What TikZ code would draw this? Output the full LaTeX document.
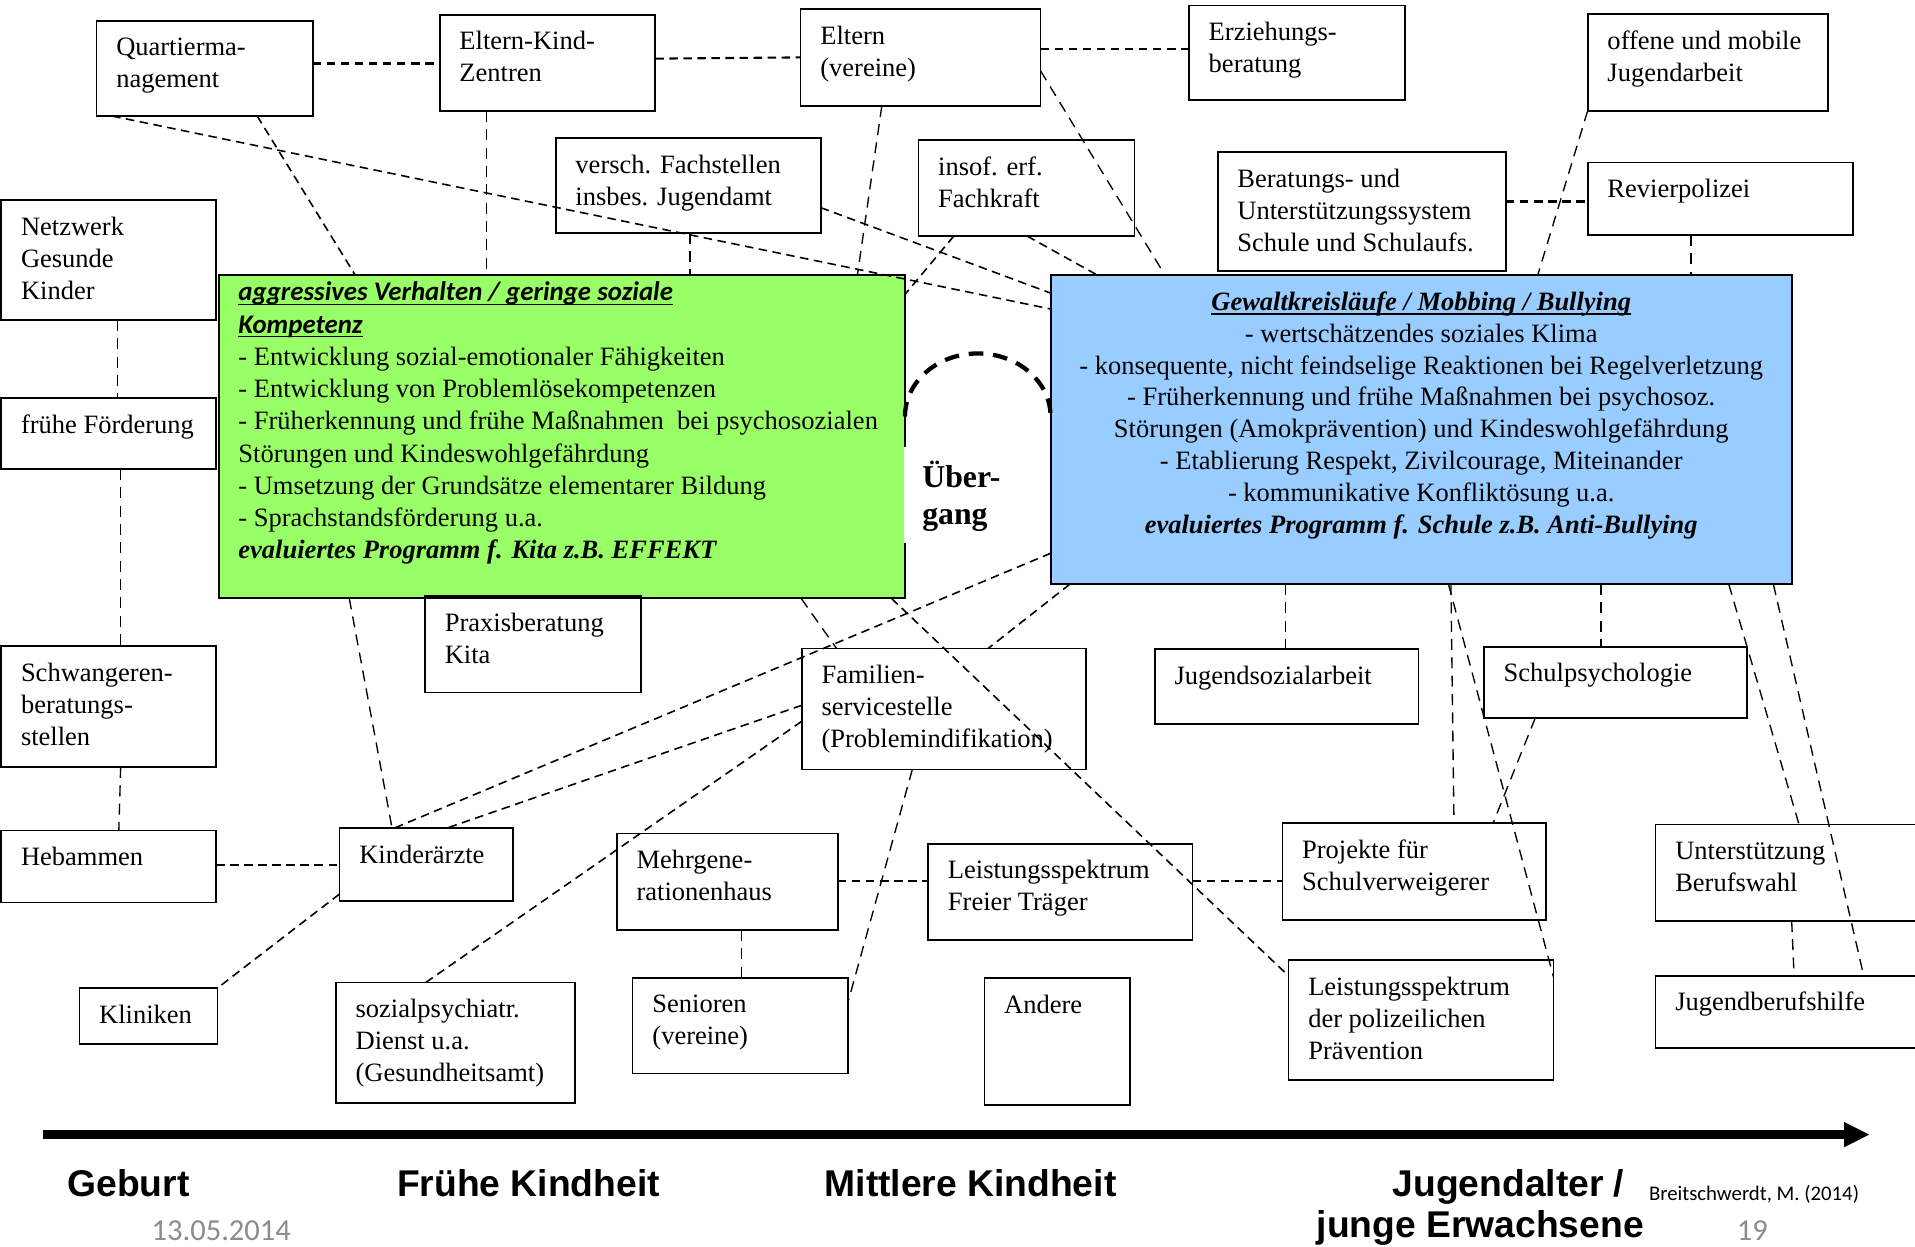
\documentclass[tikz,border=0pt]{standalone}
\usepackage{fontspec}
\setmainfont{Liberation Serif}
\newfontfamily\calib{Carlito}
\newfontfamily\arialf{Liberation Sans}
\usetikzlibrary{arrows.meta,calc}
\definecolor{kitagreen}{RGB}{153,255,102}
\definecolor{schulblue}{RGB}{153,204,255}
\definecolor{dategray}{RGB}{140,140,140}
\newcommand{\myul}[1]{\setbox0=\hbox{#1}\rlap{\rule[-3.5pt]{\wd0}{1.3pt}}\box0}
\newcommand{\ebox}[6]{%
  \node[ebx, minimum width={(#4-#2)*1pt}, minimum height={(#5-#3)*1pt}] (#1) at (#2,#3) {};
  \node[txt] (#1t) at ([shift={(16,12.5)}]#1.north west) {\rule{0pt}{16pt}#6};}
\tikzset{
  ebx/.style={draw=black, line width=1.4pt, inner sep=0pt, outer sep=0pt, anchor=north west},
  bigbox/.style={draw=black, line width=1.6pt, inner sep=0pt, outer sep=0pt, anchor=north west},
  txt/.style={anchor=north west, inner sep=0pt, align=left, font=\fontsize{21.7}{26.2}\selectfont},
  link/.style={line width=1.3pt, dash pattern=on 7pt off 4.5pt},
  hlink/.style={line width=1.7pt, dash pattern=on 7pt off 4.5pt},
  vlink/.style={line width=1.1pt, dash pattern=on 9pt off 6pt},
  arcd/.style={line width=3.5pt, dash pattern=on 12pt off 8pt},
  lab/.style={anchor=base west, inner sep=0pt, font=\arialf\bfseries\fontsize{30.5}{36}\selectfont},
  small/.style={anchor=base west, inner sep=0pt, text=dategray, font=\calib\fontsize{25}{30}\selectfont}
}
\begin{document}
\begin{tikzpicture}[x=1pt,y=-1pt]
\fill[white] (0,0) rectangle (1568,1021);
\useasboundingbox (0,0) rectangle (1568,1021);

% main boxes
\node[bigbox, fill=kitagreen, minimum width=562pt, minimum height=264.5pt] (kita) at (179,225.5) {};
\node[bigbox, fill=schulblue, minimum width=607.1pt, minimum height=252.8pt] (schule) at (860.3,225.5) {};
\node[fill=white, inner sep=0pt, outer sep=0pt, anchor=north west, minimum width=109pt, minimum height=79pt] (ueb) at (740.1,366) {};
\node[anchor=north west, inner sep=0pt, align=left, font=\bfseries\fontsize{26}{30}\selectfont] (uebt) at (755,375) {\rule{0pt}{24pt}Über-\\gang};

\node[txt, font=\fontsize{21.7}{26.4}\selectfont] (kitat) at (195,230.2) {\rule{0pt}{16pt}{\calib\bfseries\itshape\fontsize{22}{26.4}\selectfont\myul{aggressives Verhalten / geringe soziale}}\\
{\calib\bfseries\itshape\fontsize{22}{26.4}\selectfont\myul{Kompetenz}}\\
- Entwicklung sozial-emotionaler Fähigkeiten\\
- Entwicklung von Problemlösekompetenzen\\
- Früherkennung und frühe Maßnahmen\ \ bei psychosozialen\\
Störungen und Kindeswohlgefährdung\\
- Umsetzung der Grundsätze elementarer Bildung\\
- Sprachstandsförderung u.a.\\
{\bfseries\itshape evaluiertes Programm f. Kita z.B. EFFEKT}};

\node[txt, align=center, anchor=north, font=\fontsize{21.7}{26.1}\selectfont] (schulet) at (1163.7,237.9) {\rule{0pt}{16pt}{\bfseries\itshape\myul{Gewaltkreisläufe / Mobbing / Bullying}}\\
- wertschätzendes soziales Klima\\
- konsequente, nicht feindselige Reaktionen bei Regelverletzung\\
- Früherkennung und frühe Maßnahmen bei psychosoz.\\
Störungen (Amokprävention) und Kindeswohlgefährdung\\
- Etablierung Respekt, Zivilcourage, Miteinander\\
- kommunikative Konfliktösung u.a.\\
{\bfseries\itshape evaluiertes Programm f. Schule z.B. Anti-Bullying}};

% small boxes
\ebox{q}{79}{17}{256}{95}{Quartierma-\\nagement}
\ebox{ekz}{360}{12}{536.5}{91}{Eltern-Kind-\\Zentren}
\ebox{elt}{655.5}{7.6}{852}{86.8}{Eltern\\(vereine)}
\ebox{erz}{973.5}{4.6}{1150.5}{82}{Erziehungs-\\beratung}
\ebox{omj}{1300}{11.7}{1497}{90.6}{offene und mobile\\Jugendarbeit}
\ebox{vf}{455}{113}{672}{190.5}{versch. Fachstellen\\insbes. Jugendamt}
\ebox{ief}{752}{114.7}{929}{193.3}{insof. erf.\\Fachkraft}
\ebox{bus}{997}{124.5}{1233}{222}{Beratungs- und\\Unterstützungssystem\\Schule und Schulaufs.}
\ebox{rev}{1300}{133}{1517}{192.5}{Revierpolizei}
\ebox{ngk}{1}{164}{177}{262}{Netzwerk\\Gesunde\\Kinder}
\ebox{ff}{1}{326}{177}{384}{frühe Förderung}
\ebox{pk}{348}{488}{525}{567}{Praxisberatung\\Kita}
\ebox{sbs}{1}{529}{177}{628}{Schwangeren-\\beratungs-\\stellen}
\ebox{heb}{1}{680}{177}{739}{Hebammen}
\ebox{ka}{278}{678}{420}{738}{Kinderärzte}
\ebox{fss}{656.5}{531}{889}{630}{Familien-\\servicestelle\\(Problemindifikation)}
\ebox{mgh}{505}{682.5}{686}{761.5}{Mehrgene-\\rationenhaus}
\ebox{lft}{760}{691}{976.5}{769.5}{Leistungsspektrum\\Freier Träger}
\ebox{kli}{65}{809}{178}{855}{Kliniken}
\ebox{spd}{275}{804.5}{471}{903}{sozialpsychiatr.\\Dienst u.a.\\(Gesundheitsamt)}
\ebox{sen}{518}{800.7}{694.5}{879}{Senioren\\(vereine)}
\ebox{andr}{806}{801}{925}{905}{Andere}
\ebox{jsa}{945.5}{531.5}{1161.5}{592.7}{Jugendsozialarbeit}
\ebox{sps}{1215}{529.6}{1430.5}{588}{Schulpsychologie}
\ebox{psv}{1050}{674}{1266}{753}{Projekte für\\Schulverweigerer}
\ebox{ubw}{1355.5}{675}{1580}{754}{Unterstützung\\Berufswahl}
\ebox{lpp}{1055}{786}{1272}{884}{Leistungsspektrum\\der polizeilichen\\Prävention}
\ebox{jbh}{1355.5}{799}{1580}{858}{Jugendberufshilfe}

% connectors
\draw[hlink] (q.east |- 0,52) -- (ekz.west |- 0,52);
\draw[hlink] (ekz.east |- 0,48) -- (elt.west |- 0,47);
\draw[hlink] (elt.east |- 0,40) -- (erz.west |- 0,40);
\draw[link] (q.south -| 91.8,0) -- (schule.west |- 0,253);
\draw[link] (q.south -| 210.6,0) -- (kita.north -| 291,0);
\draw[vlink] (ekz.south -| 398.5,0) -- (kita.north -| 398.5,0);
\draw[vlink] (vf.south -| 565,0) -- (kita.north -| 565,0);
\draw[vlink] (elt.south -| 722,0) -- (kita.north -| 702,0);
\draw[link] (ief.south -| 781,0) -- (kita.east |- 0,241);
\draw[link] (vf.east |- 0,170) -- (schule.west |- 0,240);
\draw[link] (ief.south -| 841,0) -- (schule.north -| 899,0);
\draw[vlink] (elt.east |- 0,58) -- (schule.north -| 954,0);
\draw[hlink] (bus.east |- 0,165) -- (rev.west |- 0,165);
\draw[vlink] (omj.south west) -- (schule.north -| 1259,0);
\draw[vlink] (rev.south -| 1384.5,0) -- (schule.north -| 1384.5,0);
\draw[vlink] (ngk.south -| 96.3,0) -- (ff.north -| 96.3,0);
\draw[vlink] (ff.south -| 98.8,0) -- (sbs.north -| 98.8,0);
\draw[vlink] (sbs.south -| 98.8,0) -- (heb.north -| 97.3,0);
\draw[hlink] (heb.east |- 0,708) -- (ka.west |- 0,708);
\draw[link] (ka.west |- 0,732) -- (kli.north east);
\draw[vlink] (kita.south -| 286,0) -- (ka.north -| 321,0);
\draw[link] (schule.west |- 0,453) -- (ka.north -| 323,0);
\draw[link] (fss.west |- 0,577.5) -- (ka.north -| 366,0);
\draw[link] (fss.west |- 0,590.6) -- (spd.north -| 348.5,0);
\draw[vlink] (fss.south -| 747,0) -- (sen.east |- 0,820);
\draw[vlink] (kita.south -| 656,0) -- (fss.north -| 685,0);
\draw[link] (schule.south -| 876,0) -- (fss.north -| 809,0);
\draw[link] (kita.south -| 730,0) -- (lpp.west |- 0,799);
\draw[hlink] (mgh.east |- 0,721.5) -- (lft.west |- 0,721.5);
\draw[vlink] (mgh.south -| 607,0) -- (sen.north -| 607,0);
\draw[hlink] (lft.east |- 0,721.5) -- (psv.west |- 0,721.5);
\draw[vlink] (schule.south -| 1052.5,0) -- (jsa.north -| 1052.5,0);
\draw[vlink] (schule.south -| 1188,0) -- (psv.north -| 1190.5,0);
\draw[vlink] (schule.south -| 1186,0) -- (lpp.east |- 0,800);
\draw[vlink] (sps.south -| 1257,0) -- (psv.north -| 1222.5,0);
\draw[vlink] (schule.south -| 1311,0) -- (sps.north -| 1311,0);
\draw[vlink] (schule.south -| 1415.5,0) -- (ubw.north -| 1473,0);
\draw[vlink] (schule.south -| 1452,0) -- (jbh.north -| 1526,0);
\draw[vlink] (ubw.south -| 1467,0) -- (jbh.north -| 1469,0);

% transition arc
\draw[arcd] (kita.east |- 0,341) arc[start angle=180, end angle=360, x radius=59.6, y radius=51.6];

% timeline
\coordinate (t0) at (35,929);
\coordinate (t1) at (1531,929);
\draw[line width=7.7pt, -{Triangle[length=21pt, width=19pt]}] (t0) -- (t1);

\node[lab] (l1) at (55,980) {Geburt};
\node[lab] (l2) at (325,980) {Frühe Kindheit};
\node[lab] (l3) at (675,980) {Mittlere Kindheit};
\node[lab] (l4) at (1140,980) {Jugendalter /};
\node[lab] (l5) at (1078,1013) {junge Erwachsene};
\node[anchor=base west, inner sep=0pt, font=\calib\fontsize{17}{20}\selectfont] (cite) at (1350,983) {Breitschwerdt, M. (2014)};
\node[small] (date) at (124,1016) {13.05.2014};
\node[small] (page) at (1422,1016) {19};
\end{tikzpicture}
\end{document}
